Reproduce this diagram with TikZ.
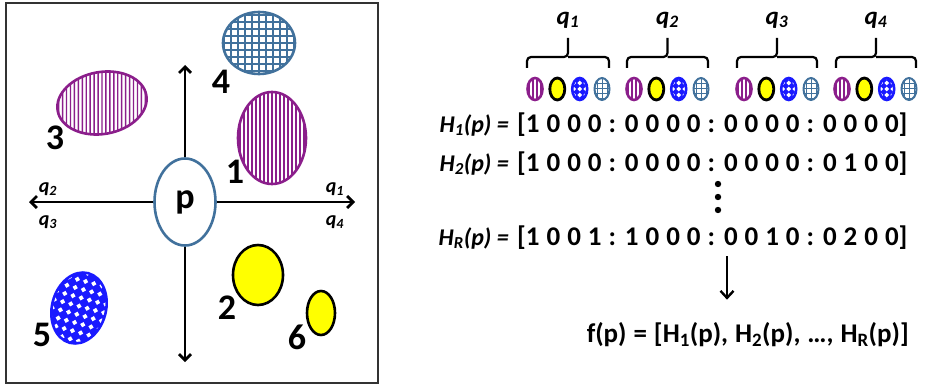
\documentclass[tikz,border=0pt]{standalone}
\usepackage{fontspec}
\setmainfont{Carlito}
\newfontfamily\bitsfont[WordSpace=1.14]{Carlito}
\usetikzlibrary{arrows.meta,positioning,shapes.geometric}
\definecolor{clPurple}{HTML}{8B1E8B}
\definecolor{clYellow}{HTML}{FFFF00}
\definecolor{clBlue}{HTML}{1A1AFF}
\definecolor{clSteel}{HTML}{41719C}

\tikzset{
  vstripes/.style n args={3}{path picture={
    \foreach \k in {-16,...,16}
      \draw[#1, line width=#3] ([xshift=\k*#2]path picture bounding box.south) -- ([xshift=\k*#2]path picture bounding box.north);}},
  mesh/.style n args={3}{path picture={
    \foreach \k in {-16,...,16} {
      \draw[#1, line width=#3] ([xshift=\k*#2]path picture bounding box.south) -- ([xshift=\k*#2]path picture bounding box.north);
      \draw[#1, line width=#3] ([yshift=\k*#2]path picture bounding box.west) -- ([yshift=\k*#2]path picture bounding box.east);}}},
  diamonds/.style 2 args={path picture={
    \foreach \i in {-6,...,6} \foreach \j in {-6,...,6}
      \fill[white] ([shift={(\i*#1,\j*#1)}]path picture bounding box.center) +(0,#2) -- +(#2,0) -- +(0,-#2) -- +(-#2,0) -- cycle;}}
}

\begin{document}
\begin{tikzpicture}[x=1pt, y=1pt,
  blob/.style={ellipse, inner sep=0pt, line width=2.6pt},
  stripeblob/.style={blob, draw=clPurple, vstripes={clPurple}{4pt}{1.4pt}},
  meshblob/.style={blob, draw=clSteel, mesh={clSteel}{7pt}{1.1pt}},
  sunblob/.style={blob, draw=black, fill=clYellow},
  dotblob/.style={blob, draw=clBlue, fill=clBlue, diamonds={8.5pt}{2.7pt}},
  icon/.style={minimum width=15pt, minimum height=22pt, line width=2.6pt},
  lbl/.style={font=\fontsize{36}{40}\selectfont\bfseries, inner sep=0pt},
  qlab/.style={font=\fontsize{20}{24}\selectfont\bfseries\itshape, inner sep=0pt},
  toplab/.style={font=\fontsize{25}{28}\selectfont\bfseries\itshape, inner sep=0pt},
  bits/.style={font=\fontsize{27}{30}\bitsfont\bfseries, inner sep=1pt},
  hlab/.style={font=\fontsize{24}{28}\selectfont\bfseries\itshape, inner sep=1pt},
  axis/.style={line width=2.8pt, -{Straight Barb[length=6pt,width=12pt]}},
  arr/.style={line width=2.4pt, -{Straight Barb[length=7pt,width=13pt]}},
  bracket/.style={line width=2.2pt, rounded corners=4pt}
]
\useasboundingbox (0,0) rectangle (933,386);

% Left panel
\draw[line width=1.4pt, black!80] (6,3) rectangle (378,383);
\node[blob, draw=clSteel, minimum width=61pt, minimum height=87pt] (p) at (185,184) {};
\node[lbl] (plab) at (p) {p};

\coordinate (xe) at (355,184);
\coordinate (xw) at (29,184);
\coordinate (yn) at (185,321);
\coordinate (ys) at (185,24);
\draw[axis] (p.east) -- (xe);
\draw[axis] (p.west) -- (xw);
\draw[axis] (p.north) -- (yn);
\draw[axis] (p.south) -- (ys);

\node[qlab] (qa1) at (335,197) {q\textsubscript{1}};
\node[qlab] (qa2) at (48,197) {q\textsubscript{2}};
\node[qlab] (qa3) at (48,164) {q\textsubscript{3}};
\node[qlab] (qa4) at (335,164) {q\textsubscript{4}};

% Points
\node[stripeblob, minimum width=68pt, minimum height=92pt] (c1) at (272,248) {};
\node[sunblob, minimum width=50pt, minimum height=60pt] (c2) at (258,111) {};
\node[stripeblob, minimum width=90pt, minimum height=62pt, rotate=10] (c3) at (102,283) {};
\node[meshblob, minimum width=72pt, minimum height=62pt] (c4) at (259,343) {};
\node[dotblob, minimum width=54pt, minimum height=72pt, rotate=-15] (c5) at (79,78) {};
\node[sunblob, minimum width=28pt, minimum height=44pt] (c6) at (321,73) {};

\node[lbl] (n1) at (235,214) {1};
\node[lbl] (n2) at (227,78) {2};
\node[lbl] (n3) at (55,248) {3};
\node[lbl] (n4) at (221,304) {4};
\node[lbl] (n5) at (42,51) {5};
\node[lbl] (n6) at (297,49) {6};

% Right panel: quadrant groups
\foreach \xa/\xb [count=\i] in {527/609, 627/708, 737/817, 836/916} {
  \draw[bracket] (\xa,318) |- ({(\xa+\xb)/2},329) -- ({(\xa+\xb)/2},348);
  \draw[bracket] (\xb,318) |- ({(\xa+\xb)/2},329);
  \node[toplab] (qt\i) at ({(\xa+\xb)/2},366) {q\textsubscript{\i}};
}
\foreach \x [count=\i] in {535,634,744,842} {
  \node[blob, icon, draw=clPurple, fill=clPurple, vstripes={white}{4pt}{1.2pt}] (s\i a) at (\x,297) {};
  \node[sunblob, icon, line width=2.8pt] (s\i b) at (\x+22.3,297) {};
  \node[blob, icon, draw=clBlue, fill=clBlue, diamonds={6pt}{2.4pt}] (s\i c) at (\x+44.7,297) {};
  \node[blob, icon, draw=clSteel, line width=2pt, mesh={clSteel}{5pt}{1pt}] (s\i d) at (\x+67,297) {};
}

% Hash rows
\node[bits, anchor=west] (v1) at (516,261) {[1 0 0 0 : 0 0 0 0 : 0 0 0 0 : 0 0 0 0]};
\node[bits, anchor=west] (v2) at (516,222) {[1 0 0 0 : 0 0 0 0 : 0 0 0 0 : 0 1 0 0]};
\node[bits, anchor=west] (vR) at (516,148) {[1 0 0 1 : 1 0 0 0 : 0 0 1 0 : 0 2 0 0]};
\node[hlab, left=6pt of v1] (h1) {H\textsubscript{1}(p) =};
\node[hlab, left=6pt of v2] (h2) {H\textsubscript{2}(p) =};
\node[hlab, left=6pt of vR] (hR) {H\textsubscript{R}(p) =};
\foreach \y in {176,189,202} \fill (718,\y) circle[radius=3.2pt];

\node[bits, anchor=east] (fp) at (910,51) {f(p) = [H\textsubscript{1}(p), H\textsubscript{2}(p), …, H\textsubscript{R}(p)]};
\coordinate (ax) at (727,0);
\draw[arr, shorten <=5pt, shorten >=22pt] (vR.south -| ax) -- (fp.north -| ax);
\end{tikzpicture}
\end{document}
